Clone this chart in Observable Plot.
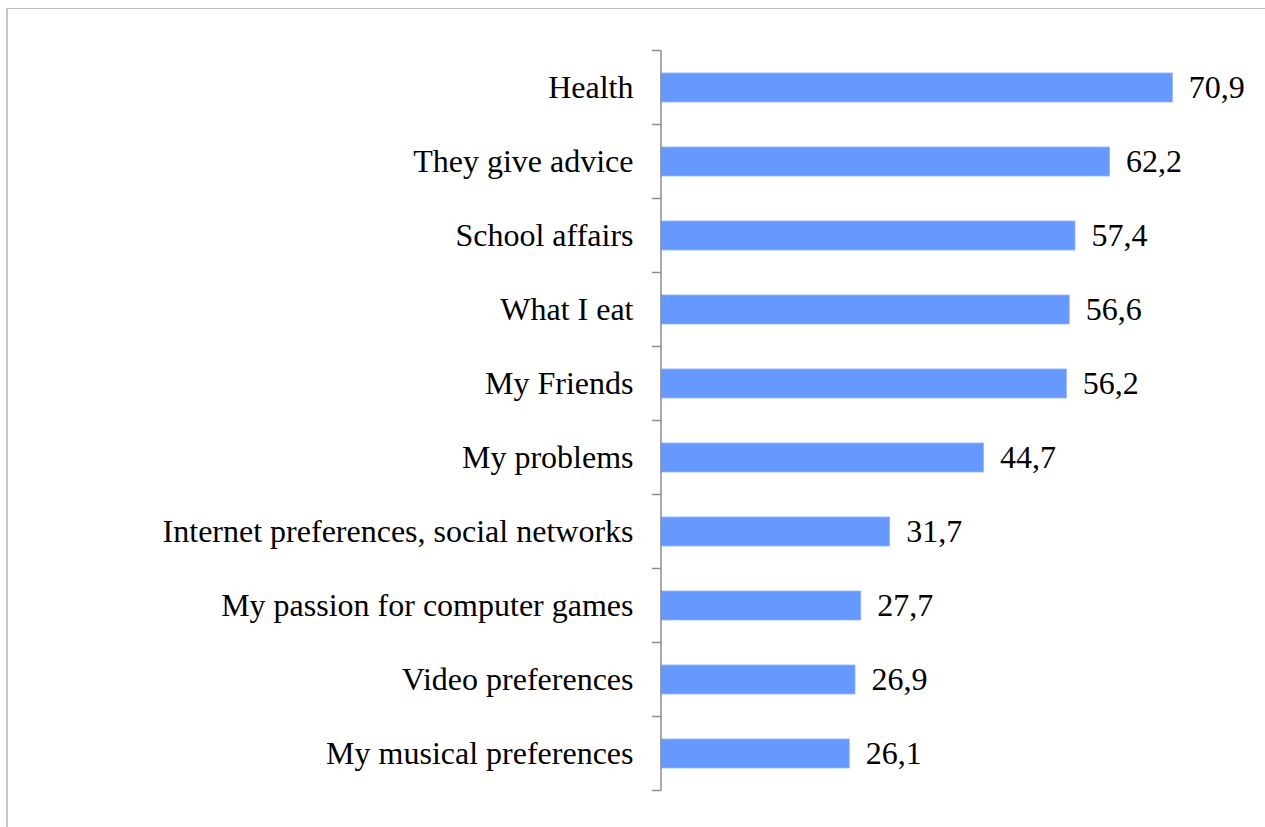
<!DOCTYPE html>
<html>
<head>
<meta charset="utf-8">
<script src="https://cdn.jsdelivr.net/npm/d3@7"></script>
<script src="https://cdn.jsdelivr.net/npm/@observablehq/plot@0.6"></script>
<style>
  html, body { margin: 0; padding: 0; background: #fff; }
  #wrap { position: relative; width: 1265px; height: 827px; overflow: hidden; }
  #border { position: absolute; left: 6px; top: 8px; right: -10px; bottom: -10px;
            border-top: 1px solid #bdbdbd; border-left: 2px solid #c6c6c6; pointer-events: none; }
  #chart { position: absolute; left: 0; top: 0; }
</style>
</head>
<body>
<div id="wrap"><div id="border"></div><div id="chart"></div></div>
<script>
const categories = [
  "Health",
  "They give advice",
  "School affairs",
  "What I eat",
  "My Friends",
  "My problems",
  "Internet preferences, social networks",
  "My passion for computer games",
  "Video preferences",
  "My musical preferences"
];
const values = [70.9, 62.2, 57.4, 56.6, 56.2, 44.7, 31.7, 27.7, 26.9, 26.1];

const data = categories.map((c, i) => ({category: c, value: values[i]}));
const fmt = v => v.toFixed(1).replace(".", ",");

// category axis line with ticks at band boundaries, computed from the scales
function boundaryTicks(index, scales, values, dimensions) {
  const y = scales.y;
  let bw = typeof y.bandwidth === "function" ? y.bandwidth() : y.bandwidth;
  if (!isFinite(bw)) bw = 0;
  const step = y(categories[1]) - y(categories[0]);
  const x0 = scales.x(0);
  const g = d3.create("svg:g");
  const ys = categories.map(c => y(c) + bw / 2 - step / 2);
  ys.push(y(categories[categories.length - 1]) + bw / 2 + step / 2);
  for (const yy of ys) {
    g.append("line").attr("x1", x0 - 9).attr("x2", x0).attr("y1", yy).attr("y2", yy)
      .attr("stroke", "#8c8c8c").attr("stroke-width", 1.5);
  }
  g.append("line").attr("x1", x0).attr("x2", x0).attr("y1", ys[0]).attr("y2", ys[ys.length - 1])
    .attr("stroke", "#8c8c8c").attr("stroke-width", 1.5);
  return g.node();
}

const chart = Plot.plot({
  width: 1265,
  height: 827,
  marginLeft: 661,
  marginRight: 27,
  marginTop: 49,
  marginBottom: 35,
  style: {fontFamily: "'Liberation Serif', 'Times New Roman', serif", fontSize: "32px", color: "#000", background: "transparent"},
  x: {domain: [0, 80], axis: null},
  y: {domain: categories, paddingInner: 0.61, paddingOuter: 0.305, label: null},
  marks: [
    Plot.axisY({tickSize: 0, tickPadding: 28, fontSize: 32, label: null}),
    Plot.barX(data, {y: "category", x: "value", fill: "#6699ff", stroke: "#8fb3ff", strokeWidth: 0.8}),
    boundaryTicks,
    Plot.text(data, {y: "category", x: "value", text: d => fmt(d.value), textAnchor: "start", dx: 16, fontSize: 32, fill: "#000"})
  ]
});
document.getElementById("chart").appendChild(chart);
</script>
</body>
</html>
